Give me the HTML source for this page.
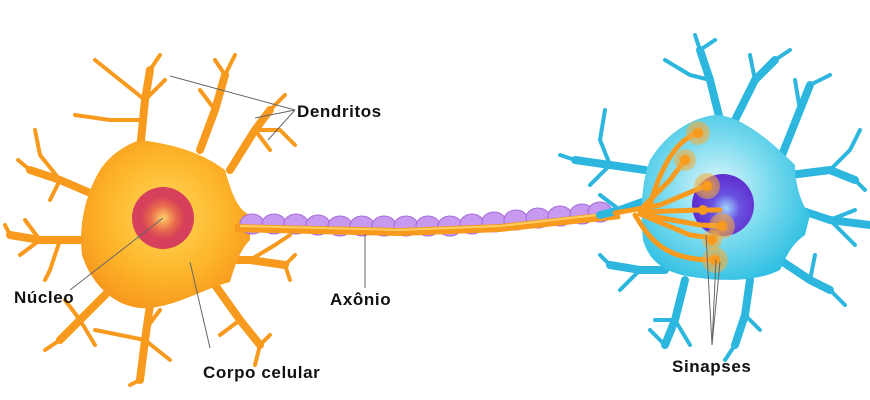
<!DOCTYPE html>
<html><head><meta charset="utf-8"><style>
html,body{margin:0;padding:0;background:#fff;width:870px;height:400px;overflow:hidden}
text{font-family:"Liberation Sans",sans-serif;font-weight:bold;font-size:17px;letter-spacing:0.6px;fill:#111}
</style></head><body>
<svg width="870" height="400" viewBox="0 0 870 400" xmlns="http://www.w3.org/2000/svg">
<defs>
<radialGradient id="og" cx="0.5" cy="0.45" r="0.6"><stop offset="0" stop-color="#ffd95a"/><stop offset="0.6" stop-color="#fdb52a"/><stop offset="1" stop-color="#f7951d"/></radialGradient>
<radialGradient id="rg"><stop offset="0" stop-color="#ffd26a"/><stop offset="0.4" stop-color="#e86a4c"/><stop offset="0.7" stop-color="#d6405a"/></radialGradient>
<radialGradient id="cg" cx="0.45" cy="0.45" r="0.6"><stop offset="0" stop-color="#e2f8fc"/><stop offset="0.5" stop-color="#7fdcef"/><stop offset="1" stop-color="#2ebfe3"/></radialGradient>
<radialGradient id="pg" cx="0.55" cy="0.55"><stop offset="0" stop-color="#9fd4ff"/><stop offset="0.45" stop-color="#6a52e0"/><stop offset="1" stop-color="#6030d0"/></radialGradient>
<radialGradient id="sg"><stop offset="0" stop-color="#f6a030" stop-opacity="0.9"/><stop offset="1" stop-color="#f2b040" stop-opacity="0.5"/></radialGradient>
</defs>
<g stroke="#f79a1e" fill="none" stroke-linecap="round" stroke-linejoin="round">
<g stroke-width="8">
<path d="M140 150 L145 100 L150 70"/><path d="M200 150 L215 110 L225 75"/><path d="M230 170 L255 130 L270 110"/>
<path d="M95 195 L60 180 L30 170"/><path d="M85 240 L40 240 L10 235"/><path d="M110 290 L80 320 L60 340"/>
<path d="M150 305 L145 340 L140 380"/><path d="M225 260 L250 260 L285 265"/><path d="M215 285 L240 320 L260 345"/>
</g>
<g stroke-width="4">
<path d="M145 100 L120 80 L95 60"/><path d="M150 70 L160 55"/><path d="M145 100 L165 80"/><path d="M145 120 L110 120 L75 115"/>
<path d="M215 110 L200 90"/><path d="M225 75 L235 55"/><path d="M225 75 L215 60"/>
<path d="M255 130 L280 130 L295 145"/><path d="M270 110 L285 95"/><path d="M255 130 L270 150"/>
<path d="M60 180 L40 155 L35 130"/><path d="M30 170 L18 160"/><path d="M60 180 L50 200"/>
<path d="M40 240 L25 220"/><path d="M10 235 L5 225"/><path d="M40 240 L20 255"/><path d="M60 240 L50 270 L45 280"/>
<path d="M80 320 L65 300"/><path d="M60 340 L45 350"/><path d="M80 320 L95 345"/>
<path d="M145 340 L120 335 L95 330"/><path d="M145 340 L170 360"/><path d="M140 380 L130 385"/><path d="M145 330 L160 310"/>
<path d="M250 260 L275 245 L290 235"/><path d="M285 265 L295 255"/><path d="M285 265 L290 280"/>
<path d="M240 320 L220 335"/><path d="M260 345 L270 335"/><path d="M260 345 L255 365"/>
</g></g>
<path d="M140 140 C180 145 205 155 225 170 C232 195 238 210 250 215 L250 240 C240 250 235 265 230 282 C200 290 170 310 140 308 C110 305 90 280 82 255 C78 220 88 190 100 170 C110 155 125 145 140 140 Z" fill="url(#og)"/>
<circle cx="163" cy="218" r="31" fill="url(#rg)"/>
<g fill="#c79af0" stroke="#a56ad8" stroke-width="1">
<ellipse cx="252" cy="224" rx="12" ry="10"/><ellipse cx="274" cy="224" rx="12" ry="10"/><ellipse cx="296" cy="224" rx="12" ry="10"/><ellipse cx="318" cy="225" rx="12" ry="10"/><ellipse cx="340" cy="226" rx="12" ry="10"/><ellipse cx="362" cy="226" rx="12" ry="10"/><ellipse cx="384" cy="226" rx="12" ry="10"/><ellipse cx="406" cy="226" rx="12" ry="10"/><ellipse cx="428" cy="226" rx="12" ry="10"/><ellipse cx="450" cy="226" rx="12" ry="10"/><ellipse cx="472" cy="224" rx="12" ry="10"/><ellipse cx="494" cy="222" rx="12" ry="10"/><ellipse cx="516" cy="220" rx="12" ry="10"/><ellipse cx="538" cy="218" rx="12" ry="10"/><ellipse cx="560" cy="216" rx="12" ry="10"/><ellipse cx="582" cy="214" rx="12" ry="10"/><ellipse cx="600" cy="212" rx="12" ry="10"/>
</g>
<path d="M235 228 L400 232 L500 228 L620 215" stroke="#f79a1e" stroke-width="8" fill="none"/>
<path d="M240 226 L400 230 L500 226 L615 213" stroke="#ffd060" stroke-width="2" fill="none"/>
<g stroke="#2db7de" fill="none" stroke-linecap="round" stroke-linejoin="round">
<g stroke-width="8">
<path d="M720 120 L710 80 L700 50"/><path d="M735 120 L755 80 L775 60"/><path d="M780 160 L800 110 L810 85"/>
<path d="M645 170 L610 165 L575 160"/><path d="M648 200 L620 210 L600 215"/><path d="M800 210 L830 220 L870 225"/>
<path d="M790 175 L830 170 L855 180"/><path d="M665 270 L640 270 L610 265"/><path d="M685 280 L675 320 L665 345"/>
<path d="M750 280 L745 315 L735 345"/><path d="M780 260 L810 280 L830 290"/>
</g>
<g stroke-width="4">
<path d="M710 80 L690 75 L665 60"/><path d="M700 50 L695 35"/><path d="M700 50 L715 40"/>
<path d="M755 80 L750 55"/><path d="M775 60 L790 50"/><path d="M800 110 L795 80"/><path d="M810 85 L830 75"/>
<path d="M610 165 L600 140 L605 110"/><path d="M575 160 L560 155"/><path d="M610 165 L590 185"/><path d="M620 210 L600 195"/>
<path d="M830 170 L850 150 L860 130"/><path d="M855 180 L865 190"/><path d="M830 220 L855 210"/><path d="M830 220 L855 245"/>
<path d="M640 270 L620 290"/><path d="M610 265 L600 255"/><path d="M675 320 L655 320"/><path d="M665 345 L650 330"/><path d="M675 320 L690 345"/>
<path d="M745 315 L760 330"/><path d="M735 345 L725 360"/><path d="M810 280 L815 255"/><path d="M830 290 L845 305"/>
</g></g>
<path d="M715 115 C740 115 770 140 795 165 C795 190 805 210 810 215 L805 235 C790 245 785 260 780 270 C760 280 730 282 700 278 C670 275 650 265 643 240 C640 210 642 180 650 160 C665 135 690 118 715 115 Z" fill="url(#cg)"/>
<circle cx="723" cy="205" r="31" fill="url(#pg)"/>
<g stroke="#f79a1e" fill="none" stroke-width="5" stroke-linecap="round">
<path d="M615 213 L660 205 L705 186"/><path d="M640 210 L670 180 L685 160"/><path d="M650 205 C660 170 675 140 698 133"/>
<path d="M640 212 L700 210 L720 210"/><path d="M640 214 L700 225 L722 226"/><path d="M640 214 L690 235 L712 238"/>
<path d="M635 215 C650 240 665 260 713 260"/>
</g>
<g fill="url(#sg)"><circle cx="698" cy="133" r="12"/><circle cx="685" cy="160" r="11"/><circle cx="707" cy="186" r="13"/><circle cx="722" cy="226" r="13"/><circle cx="712" cy="240" r="10"/><circle cx="715" cy="260" r="13"/></g>
<g fill="#f79a1e"><circle cx="698" cy="133" r="5"/><circle cx="685" cy="160" r="5"/><circle cx="707" cy="186" r="5"/><circle cx="703" cy="210" r="5"/><circle cx="722" cy="226" r="5"/><circle cx="712" cy="240" r="5"/><circle cx="715" cy="260" r="5"/></g>
<g stroke="#666" stroke-width="1" fill="none">
<path d="M295 110 L170 76"/><path d="M295 110 L255 118"/><path d="M295 110 L268 140"/>
<path d="M70 290 L163 218"/><path d="M365 288 L365 234"/><path d="M210 348 L190 262"/>
<path d="M712 345 L706 235"/><path d="M712 345 L716 260"/><path d="M712 345 L720 262"/>
</g>
<text x="297" y="117">Dendritos</text>
<text x="14" y="303">Núcleo</text>
<text x="330" y="305">Axônio</text>
<text x="203" y="378">Corpo celular</text>
<text x="672" y="372">Sinapses</text>
</svg>
</body></html>
